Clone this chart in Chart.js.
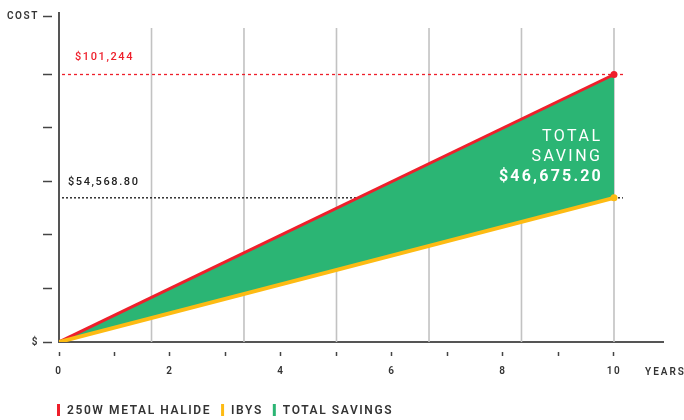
<!DOCTYPE html>
<html><head><meta charset="utf-8">
<script src="https://cdn.jsdelivr.net/npm/chart.js@4/dist/chart.umd.min.js"></script>
<style>html,body{margin:0;padding:0;background:#fff}#wrap{width:684px;height:420px;position:relative}</style>
</head><body><div id="wrap"><canvas id="c" width="684" height="420"></canvas></div>
<script>
const years = [0, 10];
const metalHalide = [0, 101244];
const ibys = [0, 54568.80];
const xTickYears = [0, 1, 2, 3, 4, 5, 6, 7, 8, 9, 10];
const xTickLabels = ['0', '', '2', '', '4', '', '6', '', '8', '', '10'];
const gridYears = [1.667, 3.333, 5, 6.667, 8.333, 10];
const yTickValues = [0, 20248.8, 40497.6, 60746.4, 80995.2, 101244, 123384];
const yTickLabels = ['$', '', '', '', '', '', 'COST'];
const legendItems = ['250W METAL HALIDE', 'IBYS', 'TOTAL SAVINGS'];
const labelMetal = '$101,244';
const labelIbys = '$54,568.80';
const savingLines = ['TOTAL', 'SAVING', '$46,675.20'];
const xAxisTitle = 'YEARS';

const RED = '#ee1f2b', YELLOW = '#fdbb13', GREEN = '#2bb574';
const FONT = 'Roboto, "DejaVu Sans", sans-serif';

const deco = {
  id: 'deco',
  beforeDraw(chart) { chart.ctx.letterSpacing = '1.6px'; },
  beforeDatasetsDraw(chart) {
    const { ctx, chartArea, scales: { x, y } } = chart;
    ctx.save();
    ctx.strokeStyle = '#c2c2c2';
    ctx.lineWidth = 1.6;
    gridYears.forEach(g => {
      const px = x.getPixelForValue(g);
      ctx.beginPath(); ctx.moveTo(px, chartArea.top + 15); ctx.lineTo(px, chartArea.bottom); ctx.stroke();
    });
    const xs = chartArea.left + 3, xe = x.getPixelForValue(years[1]) + 9;
    ctx.lineWidth = 1.3;
    ctx.strokeStyle = RED; ctx.setLineDash([3, 3]);
    let py = y.getPixelForValue(metalHalide[1]);
    ctx.beginPath(); ctx.moveTo(xs, py); ctx.lineTo(xe, py); ctx.stroke();
    ctx.strokeStyle = '#111'; ctx.setLineDash([2, 2]);
    py = y.getPixelForValue(ibys[1]);
    ctx.beginPath(); ctx.moveTo(xs, py); ctx.lineTo(xe, py); ctx.stroke();
    ctx.restore();
  },
  afterDatasetsDraw(chart) {
    const { ctx, chartArea, scales: { x, y } } = chart;
    ctx.save();
    ctx.letterSpacing = '1.6px';
    ctx.textBaseline = 'middle';
    ctx.textAlign = 'left';
    ctx.font = '500 11px ' + FONT;
    ctx.fillStyle = RED;
    const pr = y.getPixelForValue(metalHalide[1]);
    ctx.fillText(labelMetal, chartArea.left + 16, pr - 17.5);
    ctx.fillStyle = '#222';
    const pi = y.getPixelForValue(ibys[1]);
    ctx.fillText(labelIbys, chartArea.left + 9, pi - 16);
    ctx.textAlign = 'right';
    ctx.fillStyle = '#fff';
    ctx.letterSpacing = '2.5px';
    const xr = x.getPixelForValue(years[1]) - 14 + 2.5;
    ctx.font = '400 16px ' + FONT;
    ctx.fillText(savingLines[0], xr, pr + 63);
    ctx.fillText(savingLines[1], xr, pr + 83);
    ctx.letterSpacing = '2.2px';
    ctx.font = 'bold 16px ' + FONT;
    ctx.fillText(savingLines[2], xr + 0.5, pr + 103);
    ctx.restore();
  },
  afterDraw(chart) {
    const { ctx, chartArea } = chart;
    ctx.save();
    ctx.letterSpacing = '2px';
    ctx.textBaseline = 'middle';
    ctx.textAlign = 'left';
    ctx.fillStyle = '#333';
    ctx.font = '600 10px ' + FONT;
    ctx.fillText(xAxisTitle, chartArea.right - 18, chartArea.bottom + 30);
    ctx.font = '600 12px ' + FONT;
    ctx.letterSpacing = '1.6px';
    const colors = [RED, YELLOW, GREEN];
    let cx = 57;
    const cy = 410;
    legendItems.forEach((t, i) => {
      ctx.fillStyle = colors[i];
      ctx.fillRect(cx, cy - 6, 3, 12);
      cx += 10;
      ctx.fillStyle = '#333';
      ctx.fillText(t, cx, cy + 0.5);
      cx += ctx.measureText(t).width + 10;
    });
    ctx.restore();
  }
};

new Chart(document.getElementById('c'), {
  type: 'line',
  data: {
    datasets: [
      {
        label: 'IBYS',
        data: years.map((yr, i) => ({ x: yr, y: ibys[i] })),
        borderColor: YELLOW, borderWidth: 4,
        pointRadius: [0, 3.5], pointBackgroundColor: YELLOW, pointBorderWidth: 0,
        fill: false, tension: 0
      },
      {
        label: '250W METAL HALIDE',
        data: years.map((yr, i) => ({ x: yr, y: metalHalide[i] })),
        borderColor: RED, borderWidth: 3,
        pointRadius: [0, 3.5], pointBackgroundColor: RED, pointBorderWidth: 0,
        fill: { target: '-1' }, backgroundColor: GREEN, tension: 0
      }
    ]
  },
  options: {
    responsive: false,
    animation: false,
    devicePixelRatio: 1,
    layout: { padding: { left: 0, right: 21, top: 13, bottom: 0 } },
    plugins: { legend: { display: false }, tooltip: { enabled: false } },
    scales: {
      x: {
        type: 'linear', min: 0, max: 10.883,
        afterBuildTicks: s => { s.ticks = xTickYears.map(v => ({ value: v })); },
        afterFit: s => { s.height = 78; },
        grid: { drawOnChartArea: false, drawTicks: true, tickLength: 14, tickColor: '#444', tickWidth: 1.5, tickBorderDash: [5, 100], tickBorderDashOffset: 96 },
        border: { color: '#555', width: 2 },
        ticks: {
          autoSkip: false, maxRotation: 0, padding: 9, color: '#333',
          font: { family: FONT, size: 10, weight: '600' },
          callback: v => { const i = xTickYears.indexOf(v); return i >= 0 ? xTickLabels[i] : ''; }
        }
      },
      y: {
        type: 'linear', min: 0, max: 124520,
        afterBuildTicks: s => { s.ticks = yTickValues.map(v => ({ value: v })); },
        afterFit: s => { s.width = 59; },
        grid: { drawOnChartArea: false, drawTicks: true, tickLength: 16, tickColor: '#444', tickWidth: 1.5, tickBorderDash: [9, 100] },
        border: { color: '#555', width: 2 },
        ticks: {
          autoSkip: false, padding: 4, color: '#333',
          font: { family: FONT, size: 10, weight: '600' },
          callback: v => { const i = yTickValues.indexOf(v); return i >= 0 ? yTickLabels[i] : ''; }
        }
      }
    }
  },
  plugins: [deco]
});
</script></body></html>
